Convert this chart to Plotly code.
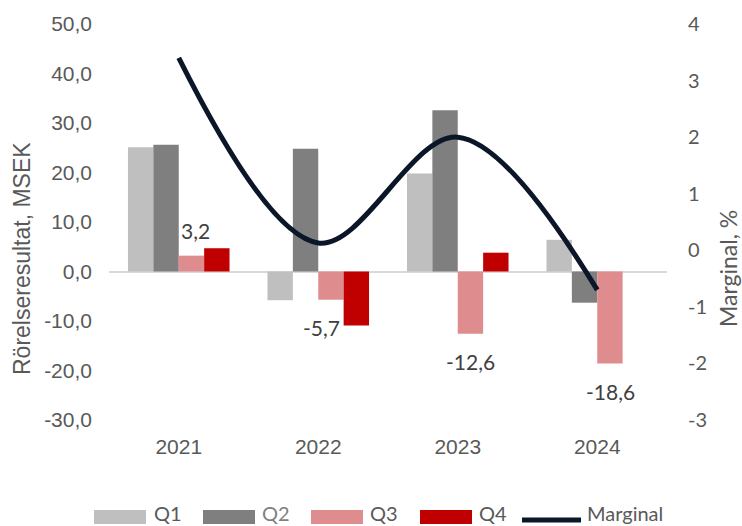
import plotly.graph_objects as go

# ---------------- data ----------------
years = ["2021", "2022", "2023", "2024"]
q1 = [25.1, -5.8, 19.8, 6.4]
q2 = [25.6, 24.8, 32.6, -6.3]
q3 = [3.2, -5.7, -12.6, -18.6]
q4 = [4.7, -10.9, 3.8, None]
marginal = [3.4, 0.13, 2.0, -0.7]

left_tickvals = [-30, -20, -10, 0, 10, 20, 30, 40, 50]
left_ticktext = ["-30,0", "-20,0", "-10,0", "0,0", "10,0", "20,0", "30,0", "40,0", "50,0"]
right_tickvals = [-3, -2, -1, 0, 1, 2, 3, 4]
right_ticktext = ["-3", "-2", "-1", "0", "1", "2", "3", "4"]

series_names = ["Q1", "Q2", "Q3", "Q4"]
series_colors = ["#bfbfbf", "#7f7f7f", "#df8c8e", "#c00000"]
line_color = "#0b1628"

# ---------------- layout geometry (pixels) ----------------
W, H = 742, 526
L, R, T, B = 109, 667, 24, 420


def px(xp):
    return (xp - L) / (R - L)


def py(yp):
    return (B - yp) / (B - T)


fig = go.Figure()

for name, vals, col in zip(series_names, [q1, q2, q3, q4], series_colors):
    fig.add_trace(go.Bar(
        x=years, y=vals, name=name, marker=dict(color=col, line=dict(width=0)),
        showlegend=False, hoverinfo="x+y+name",
    ))

fig.add_trace(go.Scatter(
    x=years, y=marginal, name="Marginal", yaxis="y2", mode="lines",
    line=dict(color=line_color, width=5, shape="spline", smoothing=1.0),
    showlegend=False,
))

# data labels for Q3 (offsets in pixels relative to bar end)
label_xshift = [17, 3, 13, 13]
label_yshift = [25, -28, -28, -28]
for i, (v, dx, dy) in enumerate(zip(q3, label_xshift, label_yshift)):
    fig.add_annotation(
        x=i, y=v, xref="x", yref="y", text=f"{v:.1f}".replace(".", ","),
        showarrow=False, xshift=dx, yshift=dy, xanchor="center", yanchor="middle",
        font=dict(family="Lato", size=21, color="#404040"),
    )

# axis titles
fig.add_annotation(
    x=px(22), y=py(259), xref="paper", yref="paper", text="Rörelseresultat, MSEK",
    textangle=-90, showarrow=False, xanchor="center", yanchor="middle",
    font=dict(family="Liberation Sans", size=23, color="#595959"),
)
fig.add_annotation(
    x=px(728), y=py(269), xref="paper", yref="paper", text="Marginal, %",
    textangle=-90, showarrow=False, xanchor="center", yanchor="middle",
    font=dict(family="Lato", size=23, color="#595959"),
)

# custom legend
legend_items = [
    ("Q1", 94, 146, 152, "#595959"),
    ("Q2", 203, 255, 260, "#808080"),
    ("Q3", 311, 363, 368, "#595959"),
    ("Q4", 420, 472, 477, "#595959"),
]
for (name, x0, x1, tx, tcol), col in zip(legend_items, series_colors):
    fig.add_shape(type="rect", xref="paper", yref="paper",
                  x0=px(x0), x1=px(x1), y0=py(524), y1=py(510),
                  fillcolor=col, line=dict(width=0))
    fig.add_annotation(x=px(tx), y=py(513), xref="paper", yref="paper", text=name,
                       showarrow=False, xanchor="left", yanchor="middle",
                       font=dict(family="Lato", size=20, color=tcol))
fig.add_shape(type="line", xref="paper", yref="paper",
              x0=px(522), x1=px(581), y0=py(520), y1=py(520),
              line=dict(color=line_color, width=5))
fig.add_annotation(x=px(585), y=py(513), xref="paper", yref="paper", text="Marginal",
                   showarrow=False, xanchor="left", yanchor="middle",
                   font=dict(family="Lato", size=20, color="#595959"))

fig.update_layout(
    width=W, height=H,
    margin=dict(l=L, r=W - R, t=T, b=H - B, autoexpand=False),
    paper_bgcolor="white", plot_bgcolor="white",
    barmode="group", bargap=0.272, bargroupgap=0,
    showlegend=False,
    xaxis=dict(
        type="category", range=[-0.5, 3.5], showgrid=False, zeroline=False, showline=False,
        ticks="", ticklabelstandoff=12, automargin=False,
        tickfont=dict(family="Liberation Sans", size=21, color="#595959"),
    ),
    yaxis=dict(
        range=[-30, 50], tickvals=left_tickvals, ticktext=left_ticktext,
        showgrid=False, zeroline=True, zerolinecolor="#d9d9d9", zerolinewidth=1.5,
        showline=False, ticks="", ticklabelstandoff=16, automargin=False,
        tickfont=dict(family="Liberation Sans", size=21, color="#595959"),
    ),
    yaxis2=dict(
        range=[-3, 4], tickvals=right_tickvals, ticktext=right_ticktext,
        overlaying="y", side="right", showgrid=False, zeroline=False,
        showline=False, ticks="", ticklabelstandoff=20, automargin=False,
        tickfont=dict(family="Lato", size=20, color="#595959"),
    ),
)

fig.write_html("out.html", config={"displayModeBar": False},
               post_script="document.body.style.margin='0';")
